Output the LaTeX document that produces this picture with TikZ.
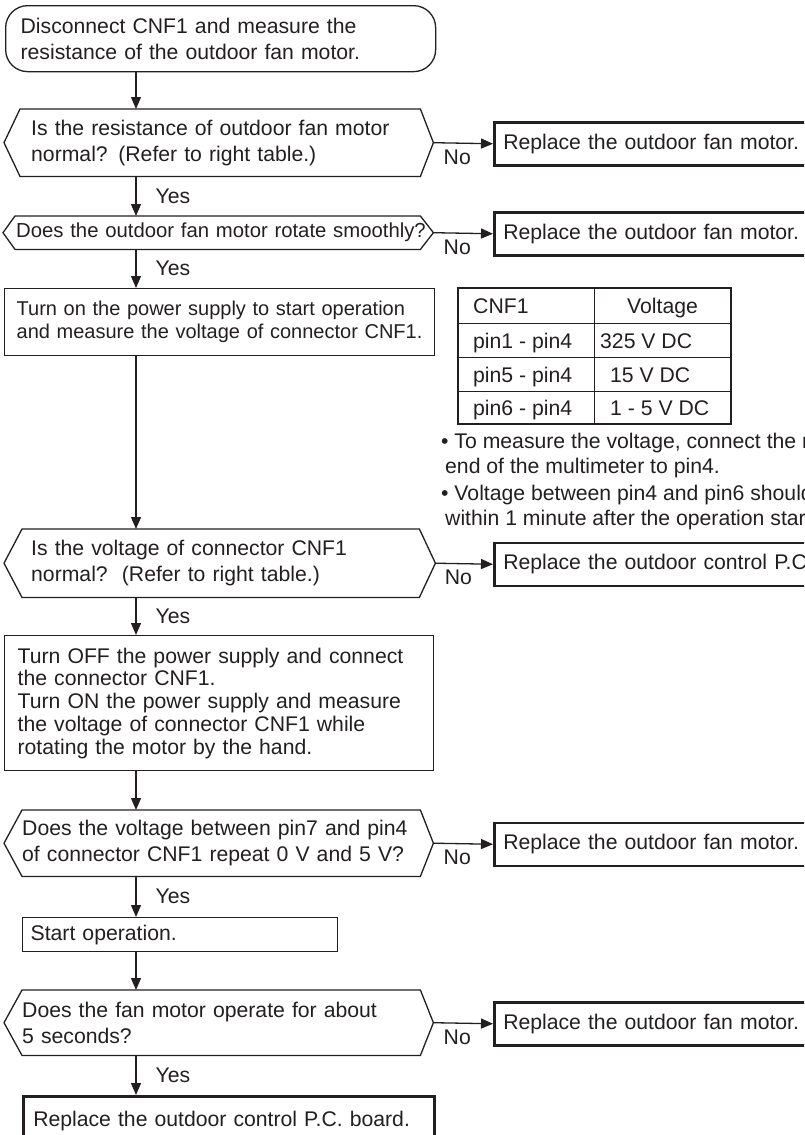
\documentclass[tikz,border=0pt]{standalone}
\usepackage{fontspec}
\setmainfont{Liberation Sans}
\usetikzlibrary{arrows.meta}
\definecolor{ink}{RGB}{35,31,32}

% decision frame: pointed on both sides, #2 / #3 = left / right point depth
\newcommand{\hexframe}[3]{%
  \draw[outline] (#1.north west) -- (#1.north east) -- ([xshift=#3]#1.east) -- (#1.south east)
    -- (#1.south west) -- ([xshift=-#2]#1.west) -- cycle;
  \coordinate (#1-r) at ([xshift=#3]#1.east);}

\begin{document}
\begin{tikzpicture}[x=1pt, y=-1pt, color=ink,
    every node/.style={font=\fontsize{21.2}{26}\selectfont},
    outline/.style={draw=ink, line width=1.3pt},
    block/.style={rectangle, outline, anchor=north west, align=left, inner ysep=0pt},
    finalbox/.style={block, line width=2.5pt},
    replace/.style={finalbox, minimum width=418pt, minimum height=43pt, inner xsep=9pt, text width=400pt},
    decide/.style={rectangle, anchor=north west, align=left, inner ysep=0pt},
    line/.style={draw=ink, -{Triangle[length=12pt, width=10pt]}, line width=1.3pt},
    yes/.style={right, xshift=17pt, inner sep=2pt},
    no/.style={below, yshift=-4pt, inner sep=2pt},
    cell/.style={anchor=base west, inner sep=0pt}]

    \useasboundingbox (0,0) rectangle (804,1135);
    \clip (0,0) rectangle (804,1135);
    \coordinate (spine) at (136,0);

    % Nodes
    \node[block, rounded corners=22pt, minimum width=430pt, minimum height=66pt, inner xsep=15pt, text width=400pt] (start) at (5,5)
        {Disconnect CNF1 and measure the\\resistance of the outdoor fan motor.};

    \node[decide, minimum width=400pt, minimum height=67pt, inner xsep=11pt, text width=378pt] (dec1) at (20,109)
        {Is the resistance of outdoor fan motor\\normal? (Refer to right table.)};
    \hexframe{dec1}{16pt}{13pt}
    \node[replace] (fan1) at (493,121) {Replace the outdoor fan motor.};

    \node[decide, minimum width=405pt, minimum height=33pt, inner xsep=1pt, text width=403pt, font=\fontsize{20.3}{24}\selectfont] (dec2) at (15,216)
        {\mbox{Does the outdoor fan motor rotate smoothly?}};
    \hexframe{dec2}{12pt}{13pt}
    \node[replace] (fan2) at (493,211) {Replace the outdoor fan motor.};

    \node[block, minimum width=430pt, minimum height=67pt, inner xsep=12pt, text width=406pt, font=\fontsize{20}{23}\selectfont] (power) at (4,288)
        {Turn on the power supply to start operation\\and measure the voltage of connector CNF1.};

    \node[decide, minimum width=397pt, minimum height=68pt, inner xsep=9pt, text width=379pt] (dec3) at (22,529)
        {Is the voltage of connector CNF1\\normal?\ \ (Refer to right table.)};
    \hexframe{dec3}{18pt}{16pt}
    \node[replace] (pcb1) at (493,541.5) {Replace the outdoor control P.C. board.};

    \node[block, minimum width=429pt, minimum height=135pt, inner xsep=13pt, text width=403pt, font=\fontsize{21.2}{22.8}\selectfont] (reconnect) at (4,635)
        {Turn OFF the power supply and connect\\the connector CNF1.\\Turn ON the power supply and measure\\the voltage of connector CNF1 while\\rotating the motor by the hand.};

    \node[decide, minimum width=398pt, minimum height=66pt, inner xsep=0pt, text width=398pt] (dec4) at (22,810)
        {Does the voltage between pin7 and pin4\\of connector CNF1 repeat 0 V and 5 V?};
    \hexframe{dec4}{18pt}{13pt}
    \node[replace] (fan4) at (493,821.5) {Replace the outdoor fan motor.};

    \node[block, minimum width=315pt, minimum height=34pt, inner xsep=8pt, text width=299pt] (startop) at (22,917) {Start operation.};

    \node[decide, minimum width=398pt, minimum height=65pt, inner xsep=0pt, text width=398pt] (dec5) at (22,990)
        {Does the fan motor operate for about\\5 seconds?};
    \hexframe{dec5}{18pt}{13pt}
    \node[replace] (fan5) at (493,1001) {Replace the outdoor fan motor.};

    \node[finalbox, minimum width=411pt, minimum height=50pt, inner xsep=10pt, text width=391pt] (pcb2) at (22,1095)
        {Replace the outdoor control P.C. board.};

    % Voltage table
    \draw[outline, line width=1.6pt] (458,288) rectangle (731,424);
    \foreach \y in {323,357,391}
        \draw[outline, line width=1pt] (458,\y) -- (731,\y);
    \draw[outline, line width=1pt] (594,288) -- (594,424);
    \node[cell] (head1) at (473,313.5) {CNF1};
    \node[anchor=base, inner sep=0pt] (head2) at (662.5,313.5) {Voltage};
    \node[cell] (pinA) at (473,348) {pin1 - pin4};
    \node[cell] (voltA) at (600,348) {325 V DC};
    \node[cell] (pinB) at (473,382) {pin5 - pin4};
    \node[cell] (voltB) at (610,382) {15 V DC};
    \node[cell] (pinC) at (473,415.5) {pin6 - pin4};
    \node[cell] (voltC) at (610,415.5) {1 - 5 V DC};

    \node[anchor=north west, align=left, inner sep=0pt, font=\fontsize{21.2}{25}\selectfont] (notes) at (441,433)
        {• To measure the voltage, connect the negative\\\hspace*{4pt}end of the multimeter to pin4.\\[2pt]%
         • Voltage between pin4 and pin6 should\\\hspace*{4pt}within 1 minute after the operation starts.};

    % Paths
    \path[line] (start.south -| spine) -- (dec1.north -| spine);
    \path[line] (dec1.south -| spine) -- node[yes] {Yes} (dec2.north -| spine);
    \path[line] (dec1-r) -- node[no, pos=0.4] {No} (fan1.west);
    \path[line] (dec2.south -| spine) -- node[yes] {Yes} (power.north -| spine);
    \path[line] (dec2-r) -- node[no, pos=0.4] {No} (fan2.west);
    \path[line] (power.south -| spine) -- (dec3.north -| spine);
    \path[line] (dec3.south -| spine) -- node[yes] {Yes} (reconnect.north -| spine);
    \path[line] (dec3-r) -- node[no, pos=0.4] {No} (pcb1.west);
    \path[line] (reconnect.south -| spine) -- (dec4.north -| spine);
    \path[line] (dec4.south -| spine) -- node[yes] {Yes} (startop.north -| spine);
    \path[line] (dec4-r) -- node[no, pos=0.4] {No} (fan4.west);
    \path[line] (startop.south -| spine) -- (dec5.north -| spine);
    \path[line] (dec5.south -| spine) -- node[yes] {Yes} (pcb2.north -| spine);
    \path[line] (dec5-r) -- node[no, pos=0.4] {No} (fan5.west);

\end{tikzpicture}
\end{document}
